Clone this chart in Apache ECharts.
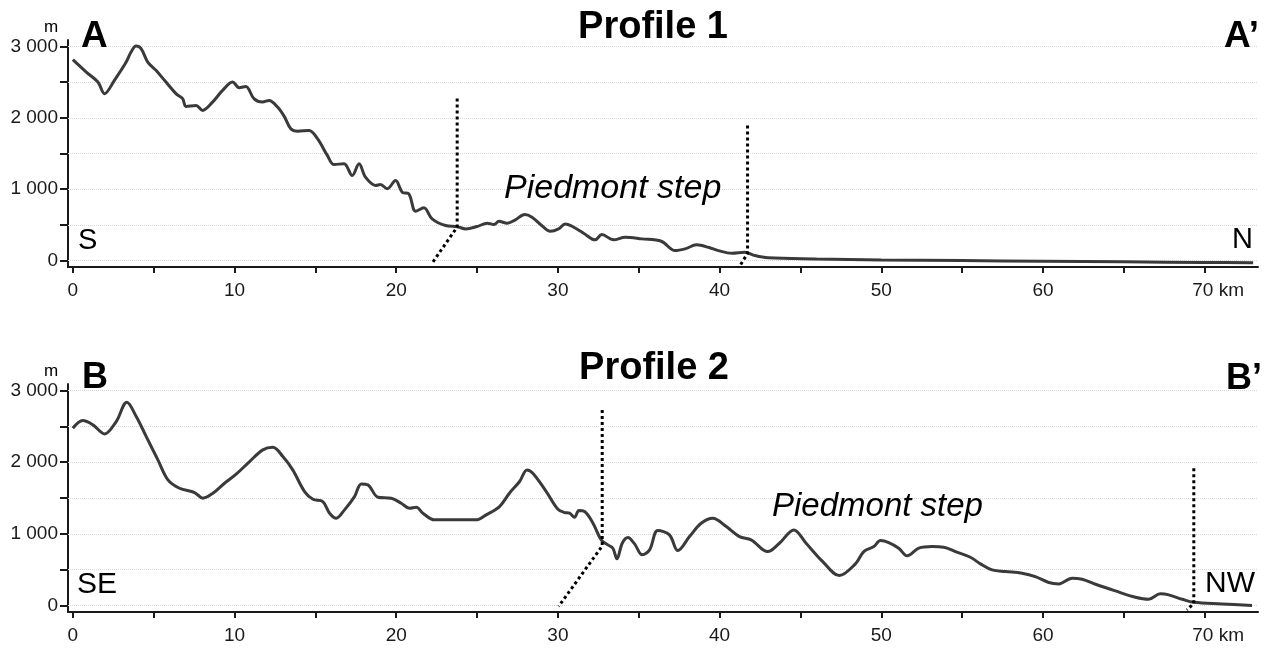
<!DOCTYPE html>
<html><head><meta charset="utf-8">
<script src="https://cdn.jsdelivr.net/npm/echarts@6/dist/echarts.min.js"></script>
<style>html,body{margin:0;padding:0;background:#fff}#c{width:1276px;height:649px}</style>
</head><body><div id="c"></div>
<script>
// Profile 1 (A - A'), distance km / elevation m
const p1Km = [0,0.83,1.55,1.96,2.57,3.3,3.6,3.91,4.22,4.63,5.14,5.76,6.38,6.79,7.0,7.62,8.02,8.64,9.26,9.88,10.29,10.7,11.2,11.73,12.14,12.66,13.1,13.48,13.9,14.61,15.13,15.74,16.15,16.77,17.28,17.7,18.1,18.73,19.03,19.44,19.96,20.37,20.78,21.2,21.71,22.22,23.05,23.77,24.3,25.0,25.63,26.05,26.35,26.86,27.37,27.95,28.4,29.0,29.53,30.04,30.45,30.87,31.59,32.3,32.72,33.44,34.16,35.19,36.4,37.24,37.86,38.58,39.3,39.92,40.76,41.57,42.19,43.0,46.0,50.0,55.0,60.0,65.0,70.0,73.0];
const p1Elev = [2815,2641,2501,2338,2525,2781,2921,3005,2969,2781,2665,2501,2338,2268,2160,2174,2104,2220,2384,2501,2422,2440,2268,2220,2244,2150,2010,1847,1813,1823,1707,1473,1346,1356,1192,1356,1168,1052,1066,1006,1122,958,935,691,739,585,491,475,444,477,523,505,551,523,571,645,607,491,411,444,514,481,383,290,365,290,327,304,271,140,164,220,187,140,102,116,70,38,22,8,0,-10,-18,-26,-32];
// Profile 2 (B - B')
const p2Km = [0,0.62,1.24,1.96,2.68,3.34,3.92,4.54,5.26,5.88,6.6,7.53,8.04,8.66,9.38,10.1,10.93,11.75,12.37,12.99,13.6,14.33,14.85,15.46,15.88,16.29,16.8,17.42,17.84,18.25,18.87,19.69,20.31,20.82,21.24,21.65,22.37,24.94,25.56,26.39,27.0,27.63,28.09,28.45,29.28,30.0,30.41,30.72,31.03,31.3,31.65,32.17,32.68,33.09,33.4,33.65,33.98,34.33,34.74,35.22,35.67,36.18,36.9,37.42,38.14,38.86,39.58,40.41,41.23,41.95,42.98,43.7,44.59,45.35,46.38,47.41,48.4,48.92,49.54,49.95,50.46,51.08,51.6,52.32,53.14,53.86,54.59,55.51,56.13,56.85,57.68,58.71,59.53,60.36,60.98,61.8,62.42,63.25,64.48,65.72,66.54,67.26,67.78,68.61,69.33,71.08,72.93];
const p2Elev = [2473,2580,2520,2394,2566,2836,2636,2357,2032,1753,1636,1576,1497,1567,1706,1832,2008,2171,2208,2078,1892,1590,1483,1450,1288,1218,1334,1520,1697,1683,1511,1497,1427,1357,1371,1288,1195,1195,1265,1381,1567,1730,1892,1846,1590,1343,1297,1288,1232,1325,1311,1148,916,846,799,651,869,948,860,707,776,1046,985,767,962,1148,1218,1102,962,916,753,869,1055,869,613,418,581,753,823,906,879,800,693,800,823,814,753,674,581,497,474,451,404,321,302,381,367,297,204,116,88,163,149,88,46,23,0];
// Dotted boundary lines of the piedmont step: [km, m] pairs
const p1StepA = [[23.77,2272],[23.77,470],[22.2,-42]];
const p1StepB = [[41.73,1893],[41.73,100],[41.2,-94]];
const p2StepA = [[32.74,2729],[32.74,830],[30.05,-10]];
const p2StepB = [[69.33,1916],[69.33,30],[68.9,-60]];
// Tick labels
const xTicks = [0,5,10,15,20,25,30,35,40,45,50,55,60,65,70];
const xLabels = [0,10,20,30,40,50,60,70];
const yTicks = [0,500,1000,1500,2000,2500,3000];
const yLabels = [0,1000,2000,3000];

const FONT = 'Liberation Sans, Arial, sans-serif';
const chart = echarts.init(document.getElementById('c'), null, {renderer:'canvas'});

function xAxisCfg(gi){
  return {
    type:'value', gridIndex:gi, min:-0.3, max:73.3,
    axisLine:{show:true, onZero:false, lineStyle:{color:'#1a1a1a', width:2}},
    axisTick:{show:true, customValues:xTicks, length:6, lineStyle:{color:'#1a1a1a', width:2}},
    axisLabel:{customValues:xLabels, margin:14, color:'#1a1a1a', fontSize:19, fontFamily:FONT,
      formatter:v=> v===70 ? '{u|70 km}' : String(v),
      rich:{u:{fontSize:19, fontFamily:FONT, color:'#1a1a1a', padding:[0,0,0,27]}}},
    splitLine:{show:false}
  };
}
function yAxisCfg(gi){
  return {
    type:'value', gridIndex:gi, min:-90, max:3090,
    axisLine:{show:true, onZero:false, lineStyle:{color:'#1a1a1a', width:2}},
    axisTick:{show:true, customValues:yTicks, length:8, lineStyle:{color:'#1a1a1a', width:2}},
    axisLabel:{customValues:yLabels, margin:10, color:'#1a1a1a', fontSize:19, fontFamily:FONT,
      formatter:v=> v===0 ? '0' : (v/1000)+' 000'},
    splitLine:{show:false}
  };
}
function zip(a,b){ return a.map((x,i)=>[x,b[i]]); }
function gridSeries(gi){
  return {type:'line', xAxisIndex:gi, yAxisIndex:gi, data:[], z:1, silent:true,
    markLine:{silent:true, z:1, symbol:'none', label:{show:false}, animation:false,
      lineStyle:{color:'#d9d9d9', type:'dotted', width:1},
      data: yTicks.map(v=>({yAxis:v}))}};
}
function profile(gi, km, elev){
  return {type:'line', xAxisIndex:gi, yAxisIndex:gi, data:zip(km,elev), smooth:0.35,
    showSymbol:false, lineStyle:{color:'#3a3a3a', width:3}, z:3, animation:false};
}
function dotted(gi, pts){
  return {type:'line', xAxisIndex:gi, yAxisIndex:gi, data:pts, showSymbol:false, z:4,
    lineStyle:{color:'#000', width:3, type:'dotted'}, animation:false};
}
function txt(x,y,t,size,opts){
  return Object.assign({type:'text', x:x, y:y, z:10, style:Object.assign({text:t, fill:'#000',
    font:(opts&&opts.f?opts.f:'')+' '+size+'px '+FONT, textVerticalAlign:'middle'}, opts&&opts.s||{})});
}

chart.setOption({
  animation:false,
  grid:[
    {left:68, top:40, width:1190, height:227},
    {left:68, top:384, width:1190, height:228}
  ],
  xAxis:[xAxisCfg(0), xAxisCfg(1)],
  yAxis:[yAxisCfg(0), yAxisCfg(1)],
  series:[
    gridSeries(0), gridSeries(1),
    profile(0,p1Km,p1Elev), dotted(0,p1StepA), dotted(0,p1StepB),
    profile(1,p2Km,p2Elev), dotted(1,p2StepA), dotted(1,p2StepB)
  ],
  graphic:[
    txt(653,28,'Profile 1',38,{f:'bold',s:{textAlign:'center'}}),
    txt(654,369,'Profile 2',38,{f:'bold',s:{textAlign:'center'}}),
    txt(81,37,'A',37,{f:'bold'}),
    txt(1259,37,'A\u2019',37,{f:'bold',s:{textAlign:'right'}}),
    txt(82,378,'B',36,{f:'bold'}),
    txt(1262,379,'B\u2019',36,{f:'bold',s:{textAlign:'right'}}),
    txt(51,27,'m',17,{s:{textAlign:'center'}}),
    txt(51,371,'m',17,{s:{textAlign:'center'}}),
    txt(78,241,'S',29,{}),
    txt(1253,240,'N',29,{s:{textAlign:'right'}}),
    txt(77,585,'SE',30,{}),
    txt(1255,584,'NW',30,{s:{textAlign:'right'}}),
    txt(504,189,'Piedmont step',34,{f:'italic'}),
    txt(772,507,'Piedmont step',33,{f:'italic'})
  ]
});
</script></body></html>
